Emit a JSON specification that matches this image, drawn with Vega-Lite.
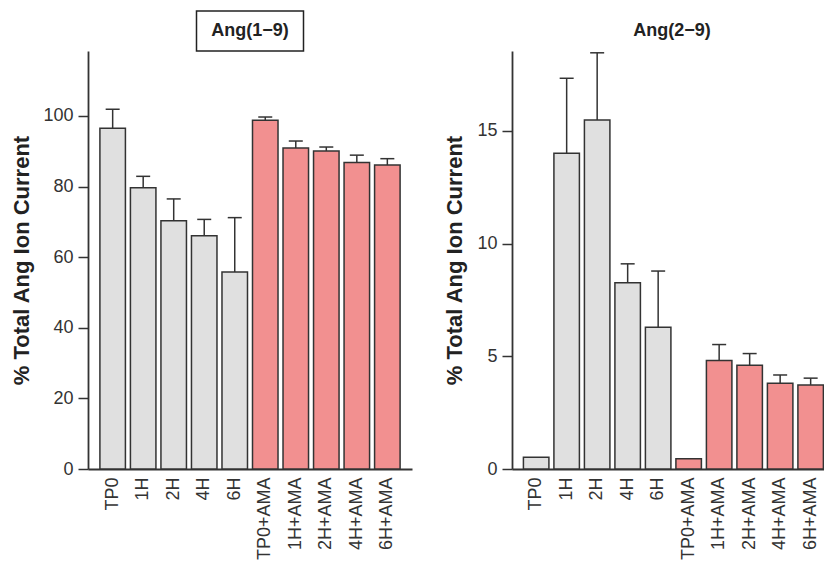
{
  "$schema": "https://vega.github.io/schema/vega-lite/v6.json",
  "padding": {"left": 10, "top": 10, "right": 0, "bottom": 0},
  "background": "white",
  "datasets": {
    "ang19": [
      {"condition": "TP0", "treatment": "control", "mean": 96.5, "upper": 101.9},
      {"condition": "1H", "treatment": "control", "mean": 79.7, "upper": 82.9},
      {"condition": "2H", "treatment": "control", "mean": 70.3, "upper": 76.5},
      {"condition": "4H", "treatment": "control", "mean": 66.1, "upper": 70.7},
      {"condition": "6H", "treatment": "control", "mean": 55.8, "upper": 71.2},
      {"condition": "TP0+AMA", "treatment": "AMA", "mean": 98.8, "upper": 99.7},
      {"condition": "1H+AMA", "treatment": "AMA", "mean": 90.9, "upper": 92.9},
      {"condition": "2H+AMA", "treatment": "AMA", "mean": 90.1, "upper": 91.2},
      {"condition": "4H+AMA", "treatment": "AMA", "mean": 86.8, "upper": 88.9},
      {"condition": "6H+AMA", "treatment": "AMA", "mean": 86.1, "upper": 87.9}
    ],
    "ang29": [
      {"condition": "TP0", "treatment": "control", "mean": 0.52, "upper": null},
      {"condition": "1H", "treatment": "control", "mean": 14.0, "upper": 17.33},
      {"condition": "2H", "treatment": "control", "mean": 15.48, "upper": 18.46},
      {"condition": "4H", "treatment": "control", "mean": 8.26, "upper": 9.1},
      {"condition": "6H", "treatment": "control", "mean": 6.29, "upper": 8.78},
      {"condition": "TP0+AMA", "treatment": "AMA", "mean": 0.46, "upper": null},
      {"condition": "1H+AMA", "treatment": "AMA", "mean": 4.81, "upper": 5.52},
      {"condition": "2H+AMA", "treatment": "AMA", "mean": 4.6, "upper": 5.12},
      {"condition": "4H+AMA", "treatment": "AMA", "mean": 3.8, "upper": 4.17},
      {"condition": "6H+AMA", "treatment": "AMA", "mean": 3.73, "upper": 4.03}
    ]
  },
  "config": {
    "view": {"stroke": null},
    "font": "Liberation Sans",
    "axis": {
      "grid": false,
      "domainColor": "#333",
      "domainWidth": 1.8,
      "tickColor": "#333",
      "tickWidth": 1.5,
      "labelFont": "Liberation Sans",
      "labelFontSize": 18,
      "labelColor": "#333",
      "titleFont": "Liberation Sans",
      "titleFontSize": 22,
      "titleFontWeight": "bold",
      "titleColor": "#222"
    },
    "axisY": {"tickSize": 10, "labelPadding": 5},
    "axisX": {"ticks": false, "labelAngle": -90, "labelPadding": 8}
  },
  "spacing": 31,
  "hconcat": [
    {
      "bounds": "flush",
      "center": true,
      "spacing": 0,
      "vconcat": [
        {
          "data": {"values": [{"title": "Ang(1−9)"}]},
          "width": 107,
          "height": 40,
          "view": {"stroke": "#222", "strokeWidth": 1.5},
          "mark": {"type": "text", "fontSize": 18, "fontWeight": "bold", "color": "#222"},
          "encoding": {"text": {"field": "title", "type": "nominal"}}
        },
        {
          "data": {"name": "ang19"},
          "width": 324,
          "height": 418,
          "encoding": {
            "x": {
              "field": "condition",
              "type": "nominal",
              "sort": null,
              "title": null,
              "scale": {"paddingInner": 0.164, "paddingOuter": 0.39}
            }
          },
          "layer": [
            {
              "mark": {"type": "bar", "stroke": "#333", "strokeWidth": 1.5},
              "encoding": {
                "y": {
                  "field": "mean",
                  "type": "quantitative",
                  "title": "% Total Ang Ion Current",
                  "scale": {"domain": [0, 118.4], "nice": false, "zero": true},
                  "axis": {"values": [0, 20, 40, 60, 80, 100], "titlePadding": 9}
                },
                "fill": {
                  "field": "treatment",
                  "type": "nominal",
                  "scale": {"domain": ["control", "AMA"], "range": ["#e0e0e0", "#f29090"]},
                  "legend": null
                }
              }
            },
            {
              "transform": [{"filter": "datum.upper != null"}],
              "mark": {"type": "rule", "stroke": "#333", "strokeWidth": 1.5},
              "encoding": {
                "y": {"field": "mean", "type": "quantitative", "title": "% Total Ang Ion Current", "scale": {"domain": [0, 118.4], "nice": false}},
                "y2": {"field": "upper"}
              }
            },
            {
              "transform": [{"filter": "datum.upper != null"}],
              "mark": {"type": "tick", "orient": "horizontal", "size": 14, "thickness": 1.5, "color": "#333", "opacity": 1},
              "encoding": {
                "y": {"field": "upper", "type": "quantitative", "title": "% Total Ang Ion Current", "scale": {"domain": [0, 118.4], "nice": false}}
              }
            }
          ]
        }
      ]
    },
    {
      "bounds": "flush",
      "center": true,
      "spacing": 0,
      "vconcat": [
        {
          "data": {"values": [{"title": "Ang(2−9)"}]},
          "width": 107,
          "height": 40,
          "mark": {"type": "text", "fontSize": 18, "fontWeight": "bold", "color": "#222", "dx": 4},
          "encoding": {"text": {"field": "title", "type": "nominal"}}
        },
        {
          "data": {"name": "ang29"},
          "width": 312,
          "height": 418,
          "encoding": {
            "x": {
              "field": "condition",
              "type": "nominal",
              "sort": null,
              "title": null,
              "scale": {"paddingInner": 0.164, "paddingOuter": 0.197, "align": 0.95}
            }
          },
          "layer": [
            {
              "mark": {"type": "bar", "stroke": "#333", "strokeWidth": 1.5},
              "encoding": {
                "y": {
                  "field": "mean",
                  "type": "quantitative",
                  "title": "% Total Ang Ion Current",
                  "scale": {"domain": [0, 18.54], "nice": false, "zero": true},
                  "axis": {"values": [0, 5, 10, 15], "titlePadding": 10}
                },
                "fill": {
                  "field": "treatment",
                  "type": "nominal",
                  "scale": {"domain": ["control", "AMA"], "range": ["#e0e0e0", "#f29090"]},
                  "legend": null
                }
              }
            },
            {
              "transform": [{"filter": "datum.upper != null"}],
              "mark": {"type": "rule", "stroke": "#333", "strokeWidth": 1.5},
              "encoding": {
                "y": {"field": "mean", "type": "quantitative", "title": "% Total Ang Ion Current", "scale": {"domain": [0, 18.54], "nice": false}},
                "y2": {"field": "upper"}
              }
            },
            {
              "transform": [{"filter": "datum.upper != null"}],
              "mark": {"type": "tick", "orient": "horizontal", "size": 14, "thickness": 1.5, "color": "#333", "opacity": 1},
              "encoding": {
                "y": {"field": "upper", "type": "quantitative", "title": "% Total Ang Ion Current", "scale": {"domain": [0, 18.54], "nice": false}}
              }
            }
          ]
        }
      ]
    }
  ]
}
